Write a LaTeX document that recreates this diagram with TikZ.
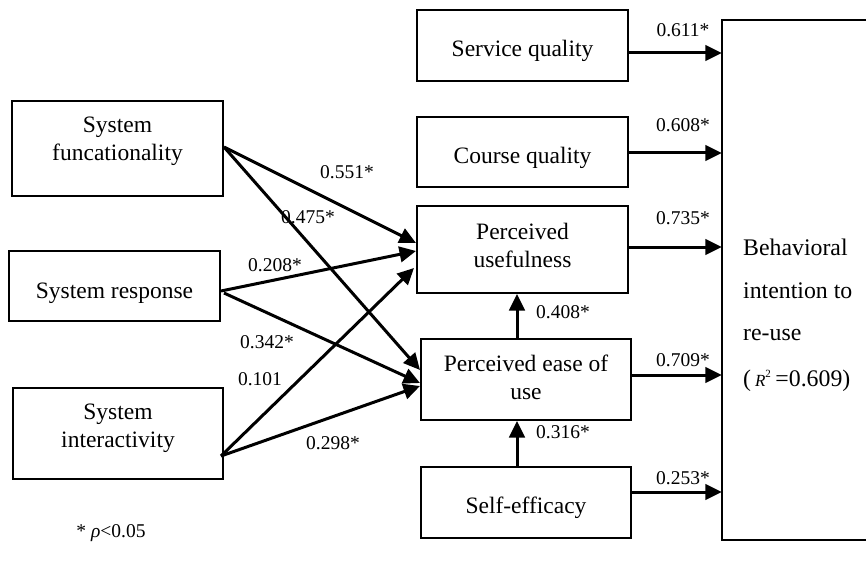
\documentclass[tikz,border=0pt]{standalone}
\usepackage{fontspec}
\setmainfont{Liberation Serif}
\usetikzlibrary{arrows.meta,calc}
\begin{document}
\begin{tikzpicture}[x=1pt,y=-1pt,
 box/.style={draw, line width=2pt, inner sep=0pt},
 txt/.style={font=\fontsize{23.5}{28}\selectfont, align=center, inner sep=0pt},
 bitxt/.style={font=\fontsize{23.8}{28}\selectfont, anchor=west, inner sep=0pt},
 lab/.style={font=\fontsize{19.5}{20}\selectfont, inner sep=0pt},
 arr/.style={line width=3pt, -{Triangle[length=16.5pt,width=15.5pt]}},
]
\useasboundingbox (0,0) rectangle (866,561);
% boxes
\node[box, minimum width=211pt, minimum height=95pt] (SF) at (117.5,148.5) {};
\node[box, minimum width=211pt, minimum height=70pt] (SR) at (114.5,286) {};
\node[box, minimum width=210pt, minimum height=91pt] (SI) at (118,433.5) {};
\node[box, minimum width=211pt, minimum height=71pt] (SQ) at (522.5,45.5) {};
\node[box, minimum width=211pt, minimum height=70pt] (CQ) at (522.5,152) {};
\node[box, minimum width=211pt, minimum height=87pt] (PU) at (522.5,249.5) {};
\node[box, minimum width=210pt, minimum height=81pt] (PE) at (526,379.5) {};
\node[box, minimum width=210pt, minimum height=71pt] (SE) at (526,502.5) {};
\node[inner sep=0pt, minimum width=144pt, minimum height=520pt] (BI) at (794,280) {};
\draw[line width=2pt] (BI.north east) -- (BI.north west) -- (BI.south west) -- (BI.south east);
% box texts
\node[txt] (tSF) at (117.5,141) {System\\funcationality};
\node[txt] (tSR) at (114.5,293) {System response};
\node[txt] (tSI) at (118,428) {System\\interactivity};
\node[txt] (tSQ) at (522.5,51) {Service quality};
\node[txt] (tCQ) at (522.5,158) {Course quality};
\node[txt] (tPU) at (522.5,245) {Perceived\\usefulness};
\node[txt] (tPE) at (526,377) {Perceived ease of\\use};
\node[txt] (tSE) at (526,508) {Self-efficacy};
\node[bitxt] (b1) at (743,247) {Behavioral};
\node[bitxt] (b2) at (743,291) {intention to};
\node[bitxt] (b3) at (743,335) {re-use};
\node[bitxt] (b4) at (743,381) {(\,{\fontsize{17}{17}\selectfont\itshape R}\textsuperscript{\fontsize{11}{11}\selectfont 2}\,=0.609)};
% diagonal arrows
\draw[arr] ([yshift=1.5pt]SF.east) -- ([yshift=6.5pt]PU.west);
\draw[arr] ([yshift=1.5pt]SF.east) -- ([yshift=9.5pt]PE.west);
\draw[arr] ([yshift=-5pt]SR.east) -- ([yshift=-1.5pt]PU.west);
\draw[arr] ([xshift=3pt,yshift=-7pt]SR.east) -- ([yshift=-3.5pt]PE.west);
\draw[arr] ([xshift=-3pt,yshift=-22.5pt]SI.east) -- ([xshift=-2pt,yshift=-18.5pt]PU.west);
\draw[arr] ([xshift=-3pt,yshift=-22.5pt]SI.east) -- ([yshift=-6.5pt]PE.west);
% horizontal arrows
\draw[arr] ([yshift=-7.5pt]SQ.east) coordinate (q1) -- (q1 -| BI.west);
\draw[arr] ([yshift=-1pt]CQ.east) coordinate (q2) -- (q2 -| BI.west);
\draw[arr] ([yshift=2.5pt]PU.east) coordinate (q3) -- (q3 -| BI.west);
\draw[arr] ([yshift=4.5pt]PE.east) coordinate (q4) -- (q4 -| BI.west);
\draw[arr] ([yshift=10.5pt]SE.east) coordinate (q5) -- (q5 -| BI.west);
% vertical arrows
\draw[arr] ([xshift=-9pt]PE.north) coordinate (v1) -- (v1 |- PU.south);
\draw[arr] ([xshift=-9pt]SE.north) coordinate (v2) -- (v2 |- PE.south);
% labels
\node[lab] (l1) at (347,172) {0.551*};
\node[lab] (l2) at (308,217) {0.475*};
\node[lab] (l3) at (275,265) {0.208*};
\node[lab] (l4) at (267,342) {0.342*};
\node[lab] (l5) at (260,379) {0.101};
\node[lab] (l6) at (333,443) {0.298*};
\node[lab] (l7) at (683,30) {0.611*};
\node[lab] (l8) at (683,125) {0.608*};
\node[lab] (l9) at (683,218) {0.735*};
\node[lab] (l10) at (563,312) {0.408*};
\node[lab] (l11) at (683,360) {0.709*};
\node[lab] (l12) at (563,432) {0.316*};
\node[lab] (l13) at (683,478) {0.253*};
\node[lab] (note) at (111,533) {* \textit{ρ}<0.05};
\end{tikzpicture}
\end{document}
